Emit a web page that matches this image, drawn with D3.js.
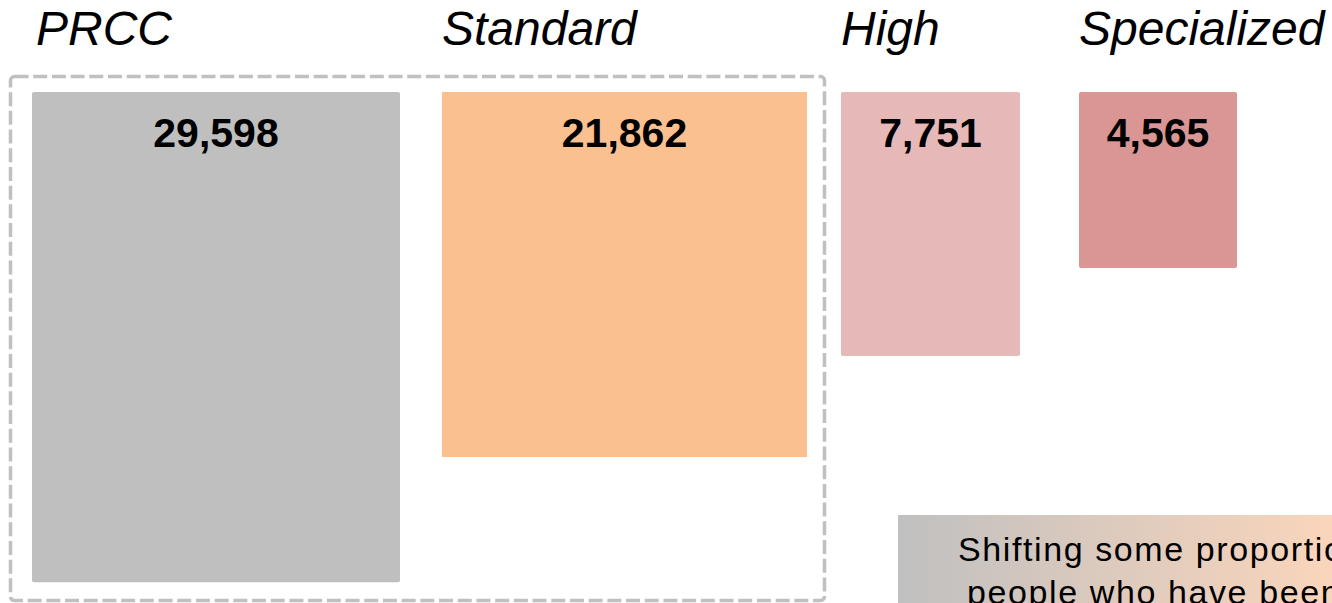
<!DOCTYPE html>
<html>
<head>
<meta charset="utf-8">
<script src="https://cdn.jsdelivr.net/npm/d3@7"></script>
<style>
  html, body { margin: 0; padding: 0; background: #ffffff; overflow: hidden; }
  svg { display: block; font-family: "Liberation Sans", Arial, sans-serif; }
</style>
</head>
<body>
<svg id="chart" width="1332" height="603"></svg>
<script>
// Care levels and the number of people in each
const categories = ["PRCC", "Standard", "High", "Specialized"];
const counts = [29598, 21862, 7751, 4565];
const fills = ["#bfbfbf", "#fac090", "#e6b9b8", "#d99694"];

// Note text (continues past the right edge)
const noteLines = ["Shifting some proportion of", "people who have been"];

// Layout: left edge and width of each block; area encodes the count
const lefts = [32, 442, 841, 1079];
const widths = [368, 365, 179, 158];
const corner = [2, 0, 2, 2];
const blockTop = 92;

const svg = d3.select("#chart");

// Area scale: square pixels per person (Standard block is a 365px square)
const area = d3.scaleLinear().domain([0, 21862]).range([0, 365 * 365]);

const blocks = categories.map((c, i) => ({
  name: c,
  value: counts[i],
  fill: fills[i],
  x: lefts[i],
  w: widths[i],
  h: area(counts[i]) / widths[i],
  rx: corner[i]
}));

// Dashed frame around PRCC and Standard
svg.append("rect")
  .attr("x", 10.5).attr("y", 76.5)
  .attr("width", 814).attr("height", 524)
  .attr("rx", 4)
  .attr("fill", "none")
  .attr("stroke", "#c0c0c0")
  .attr("stroke-width", 3.5)
  .attr("stroke-dasharray", "14 4.7");

const g = svg.selectAll("g.block").data(blocks).join("g").attr("class", "block");

g.append("rect")
  .attr("x", d => d.x)
  .attr("y", blockTop)
  .attr("width", d => d.w)
  .attr("height", d => d.h)
  .attr("rx", d => d.rx)
  .attr("fill", d => d.fill);

// Value labels
g.append("text")
  .attr("x", d => d.x + d.w / 2)
  .attr("y", blockTop + 54.5)
  .attr("text-anchor", "middle")
  .attr("font-weight", "bold")
  .attr("font-size", 41)
  .attr("fill", "#000")
  .text(d => d3.format(",")(d.value));

// Category titles
g.append("text")
  .attr("x", (d, i) => d.x + (i === 0 ? 4 : 0))
  .attr("y", 45)
  .attr("font-style", "italic")
  .attr("font-size", 48)
  .attr("fill", "#000")
  .text(d => d.name);

// Note box with gradient fill
const defs = svg.append("defs");
const grad = defs.append("linearGradient")
  .attr("id", "noteFill")
  .attr("gradientUnits", "userSpaceOnUse")
  .attr("x1", 898).attr("x2", 1332).attr("y1", 0).attr("y2", 0);
grad.append("stop").attr("offset", "0%").attr("stop-color", "#c0c0c0");
grad.append("stop").attr("offset", "100%").attr("stop-color", "#fad5bb");

svg.append("rect")
  .attr("x", 898).attr("y", 515)
  .attr("width", 460).attr("height", 120)
  .attr("fill", "url(#noteFill)");

svg.append("g").selectAll("text").data(noteLines).join("text")
  .attr("x", (d, i) => i === 0 ? 958 : 967)
  .attr("y", (d, i) => 561 + i * 43)
  .attr("font-size", 34)
  .attr("letter-spacing", 1.6)
  .attr("fill", "#000")
  .text(d => d);
</script>
</body>
</html>
